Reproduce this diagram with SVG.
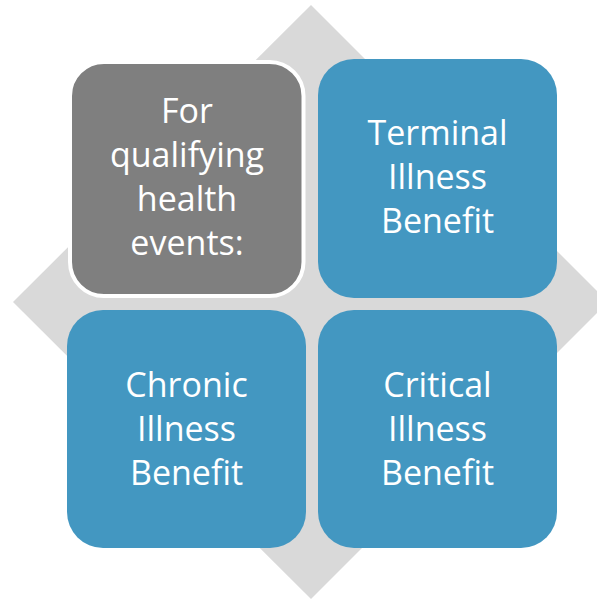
<svg xmlns="http://www.w3.org/2000/svg" width="597" height="601" viewBox="0 0 597 601">
<style>
.t{font-family:"Open Sans","Noto Sans",sans-serif;font-size:34px;fill:#fff;text-anchor:middle}
.blue{fill:#4397C1}
</style>
<rect width="597" height="601" fill="#fff"/>
<polygon points="311,5 608,302 311,599 13,302" fill="#D9D9D9"/>
<g id="n-gray">
<rect x="70" y="62" width="233.5" height="234" rx="34" fill="#7F7F7F" stroke="#fff" stroke-width="4"/>
<text class="t"><tspan x="187" y="123">For</tspan><tspan x="187" y="167">qualifying</tspan><tspan x="187" y="211">health</tspan><tspan x="187" y="255">events:</tspan></text>
</g>
<g id="n-terminal">
<rect class="blue" x="318" y="59" width="239" height="239" rx="36"/>
<text class="t"><tspan x="437.5" y="145">Terminal</tspan><tspan x="437.5" y="189">Illness</tspan><tspan x="437.5" y="233">Benefit</tspan></text>
</g>
<g id="n-chronic">
<rect class="blue" x="67" y="310" width="239" height="238" rx="36"/>
<text class="t"><tspan x="186.5" y="397">Chronic</tspan><tspan x="186.5" y="441">Illness</tspan><tspan x="186.5" y="485">Benefit</tspan></text>
</g>
<g id="n-critical">
<rect class="blue" x="318" y="310" width="239" height="238" rx="36"/>
<text class="t"><tspan x="437.5" y="397">Critical</tspan><tspan x="437.5" y="441">Illness</tspan><tspan x="437.5" y="485">Benefit</tspan></text>
</g>
<g id="connectors"/>
</svg>
